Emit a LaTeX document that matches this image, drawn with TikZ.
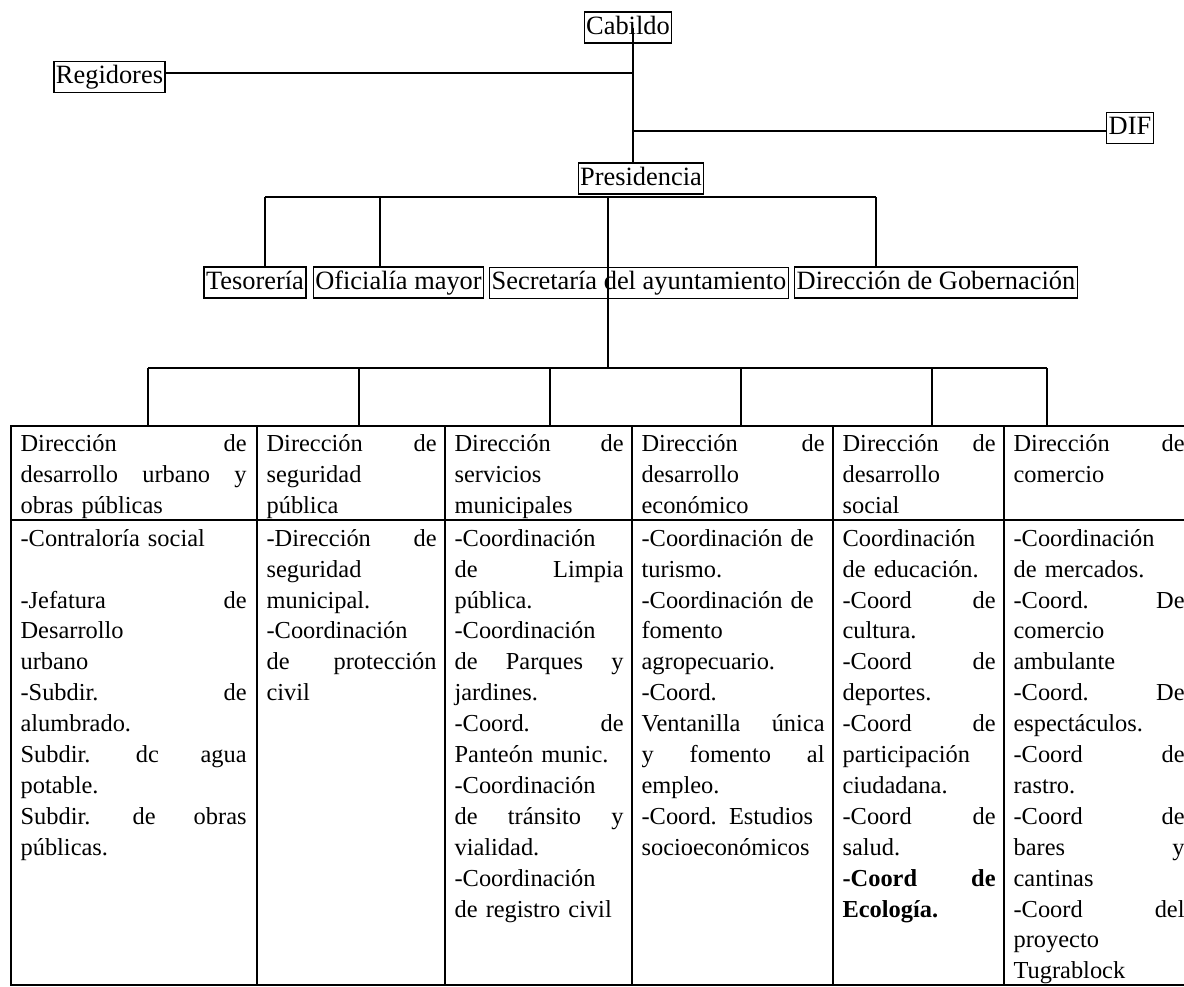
\documentclass[tikz,border=0pt]{standalone}
\usepackage{fontspec}
\setmainfont{Liberation Serif}

\begin{document}
\begin{tikzpicture}[x=0.5pt,y=-0.5pt,line width=0.6pt,
  box/.style={draw,inner xsep=1pt,inner ysep=1.65pt,text height=9.5pt,text depth=2.7pt,font=\fontsize{13.2}{15.8}\selectfont},
  cell/.style={anchor=north west,inner sep=0pt,align=left,font=\fontsize{12.2}{15.45}\selectfont}]
\useasboundingbox (0,0) rectangle (1184,986);
\node[box] (Cabildo) at (628,27.5) {Cabildo};
\node[box] (Regidores) at (109.5,77) {Regidores};
\node[box] (DIF) at (1130,128) {DIF};
\node[box] (Presidencia) at (641,178.5) {Presidencia};
\node[box] (Tesoreria) at (255,282.5) {Tesorería};
\node[box] (Oficialia) at (398.5,282.5) {Oficialía mayor};
\node[box] (Secretaria) at (639,283) {Secretaría del ayuntamiento};
\node[box] (Gobernacion) at (936,282.5) {Dirección de Gobernación};
\coordinate (r) at (633,73); \coordinate (d) at (633,131);
\draw (Cabildo.center -| r) -- (Presidencia.north -| r);
\draw (Regidores.east |- r) -- (r);
\draw (d) -- (DIF.west |- d);
\coordinate (p1) at (265,197); \coordinate (p2) at (380,197);
\coordinate (p3) at (608,197); \coordinate (p4) at (876,197);
\draw (p1) -- (p4);
\draw (p1) -- (p1 |- Tesoreria.north);
\draw (p2) -- (p2 |- Oficialia.north);
\draw (p4) -- (p4 |- Gobernacion.north);
\coordinate (s) at (608,368);
\draw (p3) -- (s);
\coordinate (T) at (11,426); \coordinate (B) at (1196,985);
\draw (T) rectangle (B);
\draw (11,520) -- (1196,520);
\foreach \x in {257,445,632,833,1004} \draw (\x,426) -- (\x,985);
\coordinate (q1) at (148,368); \coordinate (q6) at (1047,368);
\draw (q1) -- (q6);
\foreach \x in {148,359,550,741,932,1047} \draw (\x,368) -- (\x,426);
\node[cell,text width=113pt] (h1) at (20,429) {\strut Dirección \hfill de\\ desarrollo \hfill urbano \hfill y\\ obras públicas};
\node[cell,text width=85pt] (h2) at (266,429) {\strut Dirección \hfill de\\ seguridad\\ pública};
\node[cell,text width=84.5pt] (h3) at (454,429) {\strut Dirección \hfill de\\ servicios\\ municipales};
\node[cell,text width=91.5pt] (h4) at (641,429) {\strut Dirección \hfill de\\ desarrollo\\ económico};
\node[cell,text width=76.5pt] (h5) at (842,429) {\strut Dirección \hfill de\\ desarrollo\\ social};
\node[cell,text width=85.5pt] (h6) at (1013,429) {\strut Dirección \hfill de\\ comercio};
\node[cell,text width=113pt] (c1) at (20,524) {\strut -Contraloría social\\ \mbox{}\\ -Jefatura \hfill de\\ Desarrollo\\ urbano\\ -Subdir. \hfill de\\ alumbrado.\\ Subdir. \hfill dc \hfill agua\\ potable.\\ Subdir. \hfill de \hfill obras\\ públicas.};
\node[cell,text width=85pt] (c2) at (266,524) {\strut -Dirección \hfill de\\ seguridad\\ municipal.\\ -Coordinación\\ de \hfill protección\\ civil};
\node[cell,text width=84.5pt] (c3) at (454,524) {\strut -Coordinación\\ de \hfill Limpia\\ pública.\\ -Coordinación\\ de \hfill Parques \hfill y\\ jardines.\\ -Coord. \hfill de\\ Panteón munic.\\ -Coordinación\\ de \hfill tránsito \hfill y\\ vialidad.\\ -Coordinación\\ de registro civil};
\node[cell,text width=91.5pt] (c4) at (641,524) {\strut -Coordinación de\\ turismo.\\ -Coordinación de\\ fomento\\ agropecuario.\\ -Coord.\\ Ventanilla \hfill única\\ y \hfill fomento \hfill al\\ empleo.\\ -Coord. Estudios\\ socioeconómicos};
\node[cell,text width=76.5pt] (c5) at (842,524) {\strut Coordinación\\ de educación.\\ -Coord \hfill de\\ cultura.\\ -Coord \hfill de\\ deportes.\\ -Coord \hfill de\\ participación\\ ciudadana.\\ -Coord \hfill de\\ salud.\\ {\bfseries -Coord \hfill de}\\ {\bfseries Ecología.}};
\node[cell,text width=85.5pt] (c6) at (1013,524) {\strut -Coordinación\\ de mercados.\\ -Coord. \hfill De\\ comercio\\ ambulante\\ -Coord. \hfill De\\ espectáculos.\\ -Coord \hfill de\\ rastro.\\ -Coord \hfill de\\ bares \hfill y\\ cantinas\\ -Coord \hfill del\\ proyecto\\ Tugrablock};
\end{tikzpicture}
\end{document}
